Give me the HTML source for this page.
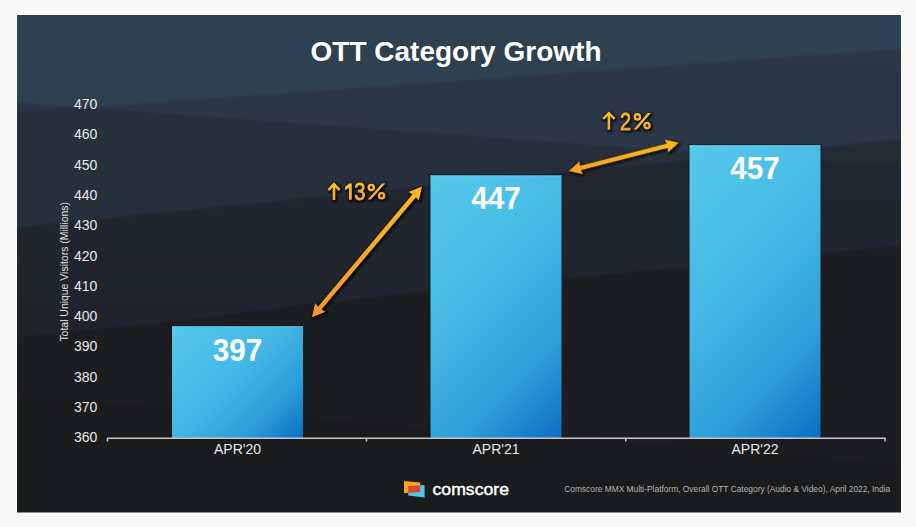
<!DOCTYPE html>
<html><head><meta charset="utf-8">
<style>
html,body{margin:0;padding:0;width:916px;height:527px;overflow:hidden;background:#f8f8f8;}
svg{position:absolute;left:0;top:0;}
text{font-family:"Liberation Sans",sans-serif;}
</style></head>
<body>
<svg width="916" height="527" viewBox="0 0 916 527">
<defs>
<linearGradient id="bg" x1="0" y1="15" x2="0" y2="512" gradientUnits="userSpaceOnUse">
<stop offset="0" stop-color="#2f4051"/>
<stop offset="0.5" stop-color="#2e3f50"/>
<stop offset="1" stop-color="#28323f"/>
</linearGradient>
<linearGradient id="cgr" x1="0" y1="140" x2="0" y2="340" gradientUnits="userSpaceOnUse">
<stop offset="0" stop-color="#1c1d22" stop-opacity="0.46"/>
<stop offset="1" stop-color="#1c1d22" stop-opacity="0.64"/>
</linearGradient>
<linearGradient id="bar1" gradientUnits="userSpaceOnUse" x1="172" y1="326.3" x2="293.5" y2="447.8"><stop offset="0" stop-color="#56c9eb"/>
<stop offset="0.45" stop-color="#43b8e4"/>
<stop offset="0.75" stop-color="#2c9dd9"/>
<stop offset="1" stop-color="#0a6ec2"/></linearGradient>
<linearGradient id="bar2" gradientUnits="userSpaceOnUse" x1="430.5" y1="175.4" x2="627.5" y2="372.4"><stop offset="0" stop-color="#56c9eb"/>
<stop offset="0.45" stop-color="#43b8e4"/>
<stop offset="0.75" stop-color="#2c9dd9"/>
<stop offset="1" stop-color="#0a6ec2"/></linearGradient>
<linearGradient id="bar3" gradientUnits="userSpaceOnUse" x1="689.5" y1="145.2" x2="901.5" y2="357.2"><stop offset="0" stop-color="#56c9eb"/>
<stop offset="0.45" stop-color="#43b8e4"/>
<stop offset="0.75" stop-color="#2c9dd9"/>
<stop offset="1" stop-color="#0a6ec2"/></linearGradient>
<linearGradient id="arr1" x1="0" y1="0" x2="171" y2="0" gradientUnits="userSpaceOnUse">
<stop offset="0" stop-color="#f6962e"/>
<stop offset="0.5" stop-color="#f9a825"/>
<stop offset="1" stop-color="#fbb81b"/>
</linearGradient>
<linearGradient id="arr2" x1="0" y1="0" x2="114" y2="0" gradientUnits="userSpaceOnUse">
<stop offset="0" stop-color="#f8a32b"/>
<stop offset="1" stop-color="#fab71c"/>
</linearGradient>
<linearGradient id="pct1" gradientUnits="userSpaceOnUse" x1="0" y1="183" x2="0" y2="200">
<stop offset="0" stop-color="#fcc024"/>
<stop offset="1" stop-color="#f6a636"/>
</linearGradient>
<linearGradient id="pct2" gradientUnits="userSpaceOnUse" x1="0" y1="112.5" x2="0" y2="130">
<stop offset="0" stop-color="#fcc024"/>
<stop offset="1" stop-color="#f6a636"/>
</linearGradient>
<filter id="sh" color-interpolation-filters="sRGB" x="-20%" y="-20%" width="140%" height="140%">
<feMorphology in="SourceAlpha" operator="dilate" radius="0.6"/>
<feGaussianBlur stdDeviation="1.2"/>
<feOffset dx="0.8" dy="1.2" result="b"/>
<feComponentTransfer><feFuncA type="linear" slope="0.75"/></feComponentTransfer>
<feMerge><feMergeNode/><feMergeNode in="SourceGraphic"/></feMerge>
</filter>
<filter id="soft" color-interpolation-filters="sRGB" x="0" y="0" width="916" height="527" filterUnits="userSpaceOnUse"><feGaussianBlur stdDeviation="0.9"/></filter>
<clipPath id="panel"><rect x="17" y="15" width="884" height="497.6"/></clipPath>
</defs>
<rect x="16" y="14" width="886" height="500" fill="#ffffff"/>
<g clip-path="url(#panel)"><g filter="url(#soft)">
<rect x="0" y="0" width="916" height="527" fill="url(#bg)"/>
<path d="M0 113.3 L916 47.9 L916 527 L0 527 Z" fill="#272c38" fill-opacity="0.4"/>
<path d="M0 101.5 L916 168.1 L916 527 L0 527 Z" fill="#242634" fill-opacity="0.45"/>
<path d="M0 229 L17 227 L170 211.5 L901 139 L916 137.5 L916 527 L0 527 Z" fill="url(#cgr)"/>
<path d="M0 339 L17 337 L170 322 L300 305 L432 291 L560 279 L692 266 L821 253 L901 246 L916 244.5 L916 527 L0 527 Z" fill="#1a1a1a" fill-opacity="0.62"/>
<path d="M0 396 L17 397 L303 417 L430 429 L690 447 L901 465 L916 466 L916 527 L0 527 Z" fill="#1a1a1a" fill-opacity="0.6"/>
</g></g>

<text x="456" y="60.6" text-anchor="middle" font-size="27.6" font-weight="bold" fill="#fff" textLength="291" lengthAdjust="spacingAndGlyphs">OTT Category Growth</text>

<g font-size="14" fill="#e8e8e8" text-anchor="end">
<text x="97.3" y="109">470</text>
<text x="97.3" y="139.3">460</text>
<text x="97.3" y="169.6">450</text>
<text x="97.3" y="199.9">440</text>
<text x="97.3" y="230.2">430</text>
<text x="97.3" y="260.5">420</text>
<text x="97.3" y="290.8">410</text>
<text x="97.3" y="321.1">400</text>
<text x="97.3" y="351.4">390</text>
<text x="97.3" y="381.7">380</text>
<text x="97.3" y="412">370</text>
<text x="97.3" y="442">360</text>
</g>
<text transform="translate(68,271.8) rotate(-90)" text-anchor="middle" font-size="11.25" fill="#e0e0e0" textLength="139.6" lengthAdjust="spacingAndGlyphs">Total Unique Visitors (Millions)</text>

<g fill="none" stroke="#08121a" stroke-opacity="0.55" stroke-width="1.2">
<path d="M171.4 438.3 V325.7 H303.6 V438.3"/>
<path d="M429.9 438.3 V174.8 H562.1 V438.3"/>
<path d="M688.9 438.3 V144.6 H821.1 V438.3"/>
</g>
<rect x="172" y="326.3" width="131" height="112" fill="url(#bar1)"/>
<rect x="430.5" y="175.4" width="131" height="263" fill="url(#bar2)"/>
<rect x="689.5" y="145.2" width="131" height="293" fill="url(#bar3)"/>
<g fill="#8adcf3" fill-opacity="0.45">
<rect x="172" y="326.3" width="131" height="1"/>
<rect x="430.5" y="175.4" width="131" height="1"/>
<rect x="689.5" y="145.2" width="131" height="1"/>
</g>

<g font-size="31" font-weight="bold" fill="#fff" text-anchor="middle">
<text x="237.5" y="361.2" textLength="49.5" lengthAdjust="spacingAndGlyphs">397</text>
<text x="496" y="209.3" textLength="49.5" lengthAdjust="spacingAndGlyphs">447</text>
<text x="755" y="178.6" textLength="49.5" lengthAdjust="spacingAndGlyphs">457</text>
</g>

<path d="M107.5 441.5 V438.3 H885 V441.5" fill="none" stroke="#c6c6c6" stroke-width="1.5"/>
<path d="M366.5 438.3 V441.5 M625.7 438.3 V441.5" stroke="#c6c6c6" stroke-width="1.5"/>

<g font-size="14" fill="#e8e8e8" text-anchor="middle">
<text x="237.5" y="454.1">APR'20</text>
<text x="496" y="454.1">APR'21</text>
<text x="755" y="454.1">APR'22</text>
</g>

<g filter="url(#sh)">
<path fill="url(#arr1)" transform="translate(312.00 317.30) rotate(-49.937)" d="M0.00 0.00 L13.00 -6.80 L12.00 -2.25 L158.91 -2.25 L157.91 -6.80 L170.91 0.00 L157.91 6.80 L158.91 2.25 L12.00 2.25 L13.00 6.80 Z"/>
<path fill="url(#arr2)" transform="translate(568.80 171.00) rotate(-14.366)" d="M0.00 0.00 L13.00 -6.80 L12.00 -2.25 L101.65 -2.25 L100.65 -6.80 L113.65 0.00 L100.65 6.80 L101.65 2.25 L12.00 2.25 L13.00 6.80 Z"/>
</g>

<g filter="url(#sh)">
<g fill="url(#pct1)">
<path d="M328.4 190.2 L334 184.2 L339.6 190.2" fill="none" stroke="url(#pct1)" stroke-width="2.5" stroke-linejoin="miter"/>
<rect x="332.7" y="185" width="2.6" height="15" />
<path d="M349 183.5 H351.8 V199.8 H349 V188 L345 190.2 V187 Z"/>
<text x="354.2" y="199.5" font-size="23" stroke="url(#pct1)" stroke-width="0.8" textLength="11.2" lengthAdjust="spacingAndGlyphs">3</text>
<circle cx="371.3" cy="187.6" r="2.6" fill="none" stroke="url(#pct1)" stroke-width="2.4"/>
<circle cx="381.6" cy="195.7" r="2.6" fill="none" stroke="url(#pct1)" stroke-width="2.4"/>
<path d="M367.6 199.6 L382 183.4 L385.3 183.4 L370.9 199.6 Z"/>
</g>
<g fill="url(#pct2)">
<path d="M603.2 118.8 L608.9 113.2 L614.6 118.8" fill="none" stroke="url(#pct2)" stroke-width="2.5" stroke-linejoin="miter"/>
<rect x="607.6" y="114" width="2.6" height="15.8" />
<text x="620" y="129.5" font-size="23" stroke="url(#pct2)" stroke-width="0.8" textLength="11.2" lengthAdjust="spacingAndGlyphs">2</text>
<circle cx="637.4" cy="116.9" r="2.6" fill="none" stroke="url(#pct2)" stroke-width="2.4"/>
<circle cx="647" cy="125.6" r="2.6" fill="none" stroke="url(#pct2)" stroke-width="2.4"/>
<path d="M633.6 129.6 L647.6 113 L650.9 113 L636.9 129.6 Z"/>
</g>
</g>

<g>
<path d="M404 481.1 L420.2 482.4 L420.2 492 L404 493.2 Z" fill="#fba31b"/>
<path d="M408.3 486.1 L424.6 485.1 L424.6 497.6 L408.3 495.5 Z" fill="#4ec8e8"/>
<path d="M408.3 486.1 L420.2 485.4 L420.2 492 L408.3 492.9 Z" fill="#e4412e"/>
</g>
<text x="432.5" y="494.6" font-size="17" fill="#fff" stroke="#fff" stroke-width="0.45" textLength="76.5" lengthAdjust="spacingAndGlyphs">comscore</text>
<text x="564.2" y="492.2" font-size="9" fill="#b4b4b4" textLength="326" lengthAdjust="spacingAndGlyphs">Comscore MMX Multi-Platform, Overall OTT Category (Audio &amp; Video), April 2022, India</text>
</svg>
</body></html>
